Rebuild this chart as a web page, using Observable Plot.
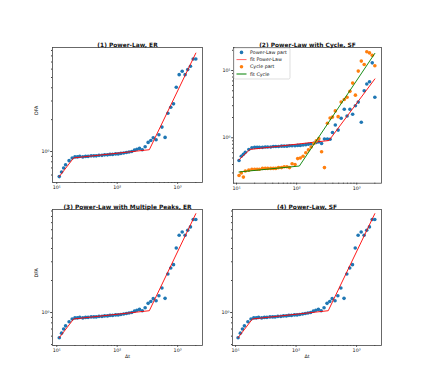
<!DOCTYPE html>
<html><head><meta charset="utf-8">
<script src="https://cdn.jsdelivr.net/npm/d3@7"></script>
<script src="https://cdn.jsdelivr.net/npm/@observablehq/plot@0.6"></script>
<style>
body{margin:0;background:#fff;}
#fig{position:relative;width:424px;height:388px;font-family:"DejaVu Sans",sans-serif;overflow:hidden;}
#fig > *{position:absolute;}
</style></head><body><div id="fig"></div>
<script>
// ---- data ----
const deltaT = [11,12,13,14,16,18,20,22,24,27,30,33,37,41,45,50,56,62,69,76,84,94,104,115,128,142,157,174,193,212,234,260,290,325,360,395,440,490,550,620,690,770,855,950,1060,1190,1330,1470,1630,1810,2000];
// panels 1, 3, 4 (power-law)
const dfaPowerLaw = [0.58,0.64,0.70,0.75,0.82,0.87,0.89,0.89,0.90,0.89,
  0.90,0.90,0.91,0.91,0.91,0.92,0.92,0.93,0.93,0.94,
  0.94,0.95,0.95,0.96,0.97,0.98,0.99,1.00,1.03,1.05,
  1.07,1.04,1.11,1.22,1.27,1.35,1.29,1.44,1.70,1.36,
  2.30,2.62,2.82,4.04,5.32,5.72,5.32,5.94,6.38,7.48,7.48];
const fitPowerLawX = [11, 19, 340, 2000];
const fitPowerLawY = [0.58, 0.87, 1.04, 8.5];
// panel 2
const dfaCyclePowerPart = [0.46,0.53,0.57,0.61,0.67,0.71,0.72,0.72,0.72,0.72,
  0.73,0.73,0.73,0.74,0.74,0.74,0.75,0.75,0.75,0.76,
  0.76,0.76,0.77,0.77,0.78,0.79,0.80,0.81,0.83,0.85,
  0.87,0.82,0.96,0.96,0.95,1.20,1.55,1.30,1.95,2.66,
  2.11,2.66,2.24,3.0,3.39,1.70,5.0,6.3,6.8,13.0,4.0];
const dfaCyclePart = [0.275,0.30,0.26,0.32,0.33,0.34,0.34,0.34,0.34,0.35,
  0.35,0.35,0.35,0.35,0.35,0.36,0.36,0.37,0.37,0.36,
  0.41,0.40,0.49,0.50,0.53,0.60,0.66,0.73,0.82,0.90,
  0.97,0.62,0.36,1.64,1.97,2.03,2.51,2.06,3.4,3.7,
  4.0,4.9,6.5,4.3,9.8,13.8,12.3,19.0,18.3,16.8,11.8];
const fitCyclePowerX = [11, 16.7, 345, 2000];
const fitCyclePowerY = [0.47, 0.67, 0.91, 7.5];
const fitCycleX = [11, 111, 2000];
const fitCycleY = [0.31, 0.38, 18];

const titles = ["(1) Power-Law, ER", "(2) Power-Law with Cycle, SF", "(3) Power-Law with Multiple Peaks, ER", "(4) Power-Law, SF"];
const legendLabels = ["Power-Law part", "fit Power-Law", "Cycle part", "fit Cycle"];
const xMajorTicks = [10, 100, 1000];
const xMinorTicks = [9,20,30,40,50,60,70,80,90,200,300,400,500,600,700,800,900,2000];
const yMajorTicks = [0.1, 1, 10];
const yMinorTicks = [0.2,0.3,0.4,0.5,0.6,0.7,0.8,0.9,2,3,4,5,6,7,8,9,20];

const BLUE = "#1f77b4", ORANGE = "#ff7f0e", RED = "red", GREEN = "green";

// ---- helpers ----
const supDigits = {"-":"⁻","0":"⁰","1":"¹","2":"²","3":"³","4":"⁴","5":"⁵","6":"⁶","7":"⁷","8":"⁸","9":"⁹"};
const fmtPow = v => "10" + String(Math.round(Math.log10(v))).split("").map(c => supDigits[c]).join("");
const toRows = (xs, ys) => xs.map((x, i) => ({x, y: ys[i]}));
const within = (arr, d) => arr.filter(v => v >= d[0] && v <= d[1]);

function panel(o) {
  const marks = [];
  for (const s of o.layers) {
    if (s.kind === "dot") marks.push(Plot.dot(toRows(s.x, s.y), {x: "x", y: "y", r: 1.8, fill: s.color, stroke: "none"}));
    else marks.push(Plot.line(toRows(s.x, s.y), {x: "x", y: "y", stroke: s.color, strokeWidth: 0.9}));
  }
  marks.push(
    Plot.frame({stroke: "#444", strokeWidth: 0.8}),
    Plot.axisX({ticks: within(xMajorTicks, o.xDomain), tickFormat: fmtPow, tickSize: 1.8, tickPadding: 1.2, fontSize: 4.8, label: null, stroke: "#444"}),
    Plot.axisX({ticks: within(xMinorTicks, o.xDomain), tickFormat: () => "", tickSize: 1.0, label: null, stroke: "#444"}),
    Plot.axisY({ticks: within(yMajorTicks, o.yDomain), tickFormat: fmtPow, tickSize: 1.8, tickPadding: 1.2, fontSize: 4.8, label: null, stroke: "#444"}),
    Plot.axisY({ticks: within(yMinorTicks, o.yDomain), tickFormat: () => "", tickSize: 1.0, label: null, stroke: "#444"}),
    Plot.text([o.title], {frameAnchor: "top", dy: -5, fontSize: 5.9, fontWeight: "bold", fill: "#111"})
  );
  if (o.yLabel) marks.push(Plot.text([o.yLabel], {frameAnchor: "left", rotate: -90, dx: -16, fontSize: 4.8, fill: "#111"}));
  if (o.xLabel) marks.push(Plot.text([o.xLabel], {frameAnchor: "bottom", dy: 12, fontSize: 4.8, fill: "#111"}));
  const svg = Plot.plot({
    width: o.w, height: o.h,
    marginLeft: o.ml, marginRight: o.mr, marginTop: o.mt, marginBottom: o.mb,
    style: {fontFamily: "DejaVu Sans, sans-serif", fontSize: "4.8px", color: "#111", background: "transparent", overflow: "visible"},
    x: {type: "log", domain: o.xDomain, axis: null},
    y: {type: "log", domain: o.yDomain, axis: null},
    marks
  });
  svg.style.left = o.left + "px";
  svg.style.top = o.top + "px";
  return svg;
}

const fig = document.getElementById("fig");
const xDomL = [8.5, 2580], xDomR = [8.9, 2580];

fig.appendChild(panel({left: 0, top: 0, w: 212, h: 194, ml: 52, mr: 10, mt: 47, mb: 12,
  xDomain: xDomL, yDomain: [0.51, 9.6], title: titles[0], yLabel: "DFA",
  layers: [{kind: "dot", x: deltaT, y: dfaPowerLaw, color: BLUE}, {kind: "line", x: fitPowerLawX, y: fitPowerLawY, color: RED}]}));

fig.appendChild(panel({left: 212, top: 0, w: 212, h: 194, ml: 21, mr: 43, mt: 47, mb: 11.3,
  xDomain: xDomR, yDomain: [0.211, 22], title: titles[1],
  layers: [
    {kind: "dot", x: deltaT, y: dfaCyclePowerPart, color: BLUE},
    {kind: "line", x: fitCyclePowerX, y: fitCyclePowerY, color: RED},
    {kind: "dot", x: deltaT, y: dfaCyclePart, color: ORANGE},
    {kind: "line", x: fitCycleX, y: fitCycleY, color: GREEN}]}));

fig.appendChild(panel({left: 0, top: 194, w: 212, h: 194, ml: 52, mr: 10, mt: 15, mb: 43,
  xDomain: xDomL, yDomain: [0.49, 9.3], title: titles[2], yLabel: "DFA", xLabel: "Δt",
  layers: [{kind: "dot", x: deltaT, y: dfaPowerLaw, color: BLUE}, {kind: "line", x: fitPowerLawX, y: fitPowerLawY, color: RED}]}));

fig.appendChild(panel({left: 212, top: 194, w: 212, h: 194, ml: 20, mr: 43, mt: 15, mb: 43,
  xDomain: xDomR, yDomain: [0.49, 9.3], title: titles[3], xLabel: "Δt",
  layers: [{kind: "dot", x: deltaT, y: dfaPowerLaw, color: BLUE}, {kind: "line", x: fitPowerLawX, y: fitPowerLawY, color: RED}]}));

// legend for panel 2
const leg = d3.create("svg").attr("width", 60).attr("height", 34)
  .style("left", "233px").style("top", "47px").style("position", "absolute");
leg.append("rect").attr("x", 1).attr("y", 1).attr("width", 56).attr("height", 31).attr("rx", 1.5)
  .attr("fill", "rgba(255,255,255,0.85)").attr("stroke", "#d0d0d0").attr("stroke-width", 0.7);
const kinds = ["dot", "line", "dot", "line"];
const colors = [BLUE, RED, ORANGE, GREEN];
legendLabels.forEach((lab, i) => {
  const cy = 5.4 + i * 7.2;
  if (kinds[i] === "dot") leg.append("circle").attr("cx", 8.5).attr("cy", cy).attr("r", 1.8).attr("fill", colors[i]);
  else leg.append("line").attr("x1", 3.5).attr("x2", 13.5).attr("y1", cy).attr("y2", cy)
    .attr("stroke", colors[i]).attr("stroke-width", 1.0).attr("stroke-opacity", i === 1 ? 0.6 : 1);
  leg.append("text").attr("x", 17).attr("y", cy).attr("dy", "0.35em").attr("font-size", 4.8)
    .attr("font-family", "DejaVu Sans, sans-serif").attr("fill", "#111").text(lab);
});
fig.appendChild(leg.node());
</script></body></html>
